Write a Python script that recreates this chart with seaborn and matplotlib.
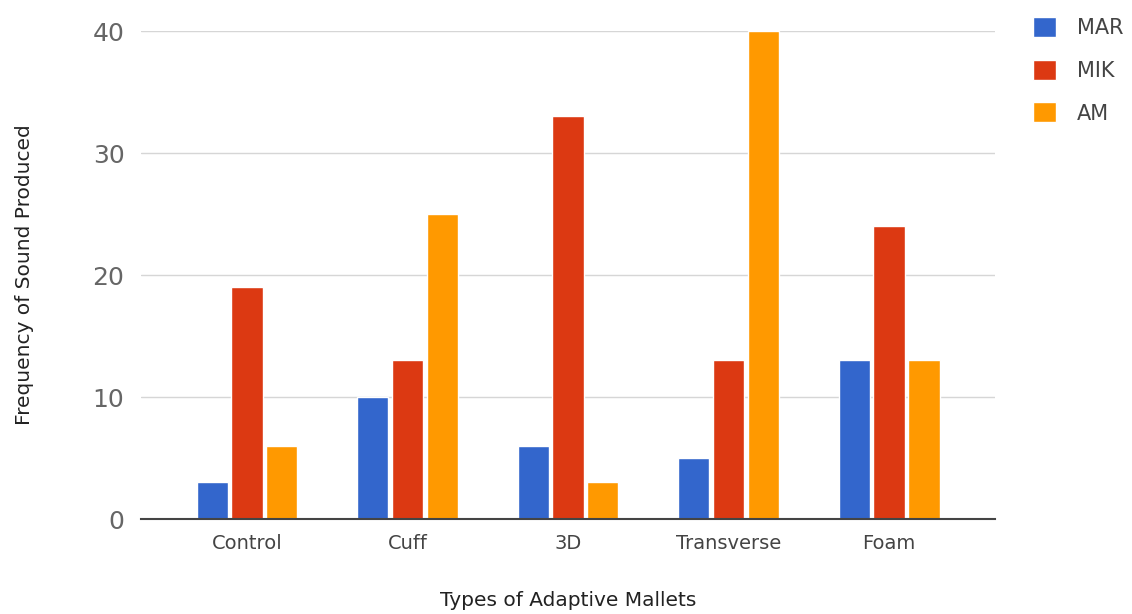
import matplotlib
matplotlib.use("Agg")
import matplotlib.pyplot as plt
import seaborn as sns
import pandas as pd

# Sound frequency counts per mallet type and listener group
mallets = ["Control", "Cuff", "3D", "Transverse", "Foam"]
mar = [3, 10, 6, 5, 13]
mik = [19, 13, 33, 13, 24]
am = [6, 25, 3, 40, 13]
groups = ["MAR", "MIK", "AM"]
colors = ["#3366CC", "#DC3912", "#FF9900"]
y_ticks = [0, 10, 20, 30, 40]

df = pd.DataFrame({
    "mallet": mallets * 3,
    "group": [g for g in groups for _ in mallets],
    "value": mar + mik + am,
})

sns.set_theme(style="white")
plt.rcParams["font.family"] = ["DejaVu Sans"]

fig = plt.figure(figsize=(11.32, 6.14), dpi=100)
ax = fig.add_axes([0.1246, 0.1547, 0.7544, 0.7948])

sns.barplot(data=df, x="mallet", y="value", hue="group", order=mallets,
            hue_order=groups, palette=colors, width=0.65, gap=0.1,
            saturation=1, errorbar=None, ax=ax)

ax.set_xlim(-0.66, 4.66)
ax.set_ylim(0, 40)
ax.set_yticks(y_ticks)
ax.yaxis.grid(True, color="#d6d6d6", linewidth=1)
ax.set_axisbelow(True)
for side in ["top", "right", "left"]:
    ax.spines[side].set_visible(False)
ax.spines["bottom"].set_color("#444444")
ax.spines["bottom"].set_linewidth(1.5)
ax.tick_params(axis="y", length=0, pad=12, labelsize=18, labelcolor="#666666")
ax.tick_params(axis="x", length=0, pad=11, labelsize=14, labelcolor="#444444")

ax.set_xlabel("Types of Adaptive Mallets", fontsize=14.5, color="#222222", labelpad=27)
ax.set_ylabel("Frequency of Sound Produced", fontsize=14.5, color="#222222", labelpad=42)

leg = ax.legend(loc="upper left", bbox_to_anchor=(1.023, 1.068), frameon=False,
                fontsize=15, labelcolor="#444444", handlelength=1.1,
                handleheight=1.1, labelspacing=1.05, handletextpad=1.0)

fig.savefig("out.png", dpi=100)
